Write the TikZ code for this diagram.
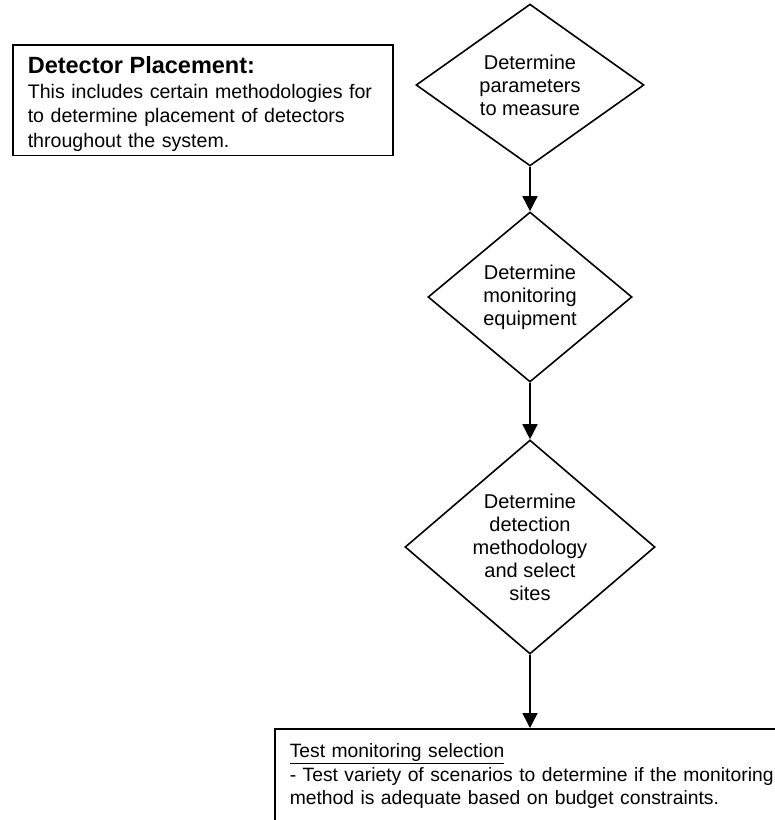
\documentclass[tikz,border=0pt]{standalone}
\usepackage{fontspec}
\setmainfont{Liberation Sans}
\usetikzlibrary{shapes.geometric,positioning,arrows.meta}

\begin{document}
\begin{tikzpicture}[x=1pt,y=-1pt,line width=1.6pt,node distance=212pt,on grid,
   >={Triangle[length=15pt,width=15pt]},
   decision/.style={draw,diamond,align=center,inner sep=0pt,
      font=\fontsize{20}{23}\selectfont},
   note/.style={draw,anchor=north west,align=left,inner xsep=15pt,
      font=\fontsize{19.6}{24.5}\selectfont}]
   \clip (0,0) rectangle (775,820);
   \node[decision,minimum width=228pt,minimum height=156pt] (det_1) at (530,85)
      {Determine\\parameters\\to measure};
   \node[decision,minimum width=204pt,minimum height=170pt] (det_2) [below=of det_1]
      {Determine\\monitoring\\equipment};
   \node[decision,aspect=1.17,minimum width=250pt,minimum height=214pt] (det_3) [below=250pt of det_2]
      {Determine\\detection\\methodology\\and select\\sites};
   \node[note,text width=350pt,inner ysep=4pt] (placement) at (12,44)
      {\rule{0pt}{25pt}{\bfseries\fontsize{23.5}{25}\selectfont Detector Placement:}\\
       This includes certain methodologies for\\
       to determine placement of detectors\\
       throughout the system.};
   \node[note,text width=600pt,inner ysep=15pt,font=\fontsize{19.3}{23.5}\selectfont] (test) at (274,728)
      {\underline{Test monitoring selection}\\
       - Test variety of scenarios to determine if the monitoring\\
       method is adequate based on budget constraints.};
   \path[->]
   (det_1) edge (det_2)
   (det_2) edge (det_3)
   (det_3.south) edge (det_3.south |- test.north);
\end{tikzpicture}
\end{document}
